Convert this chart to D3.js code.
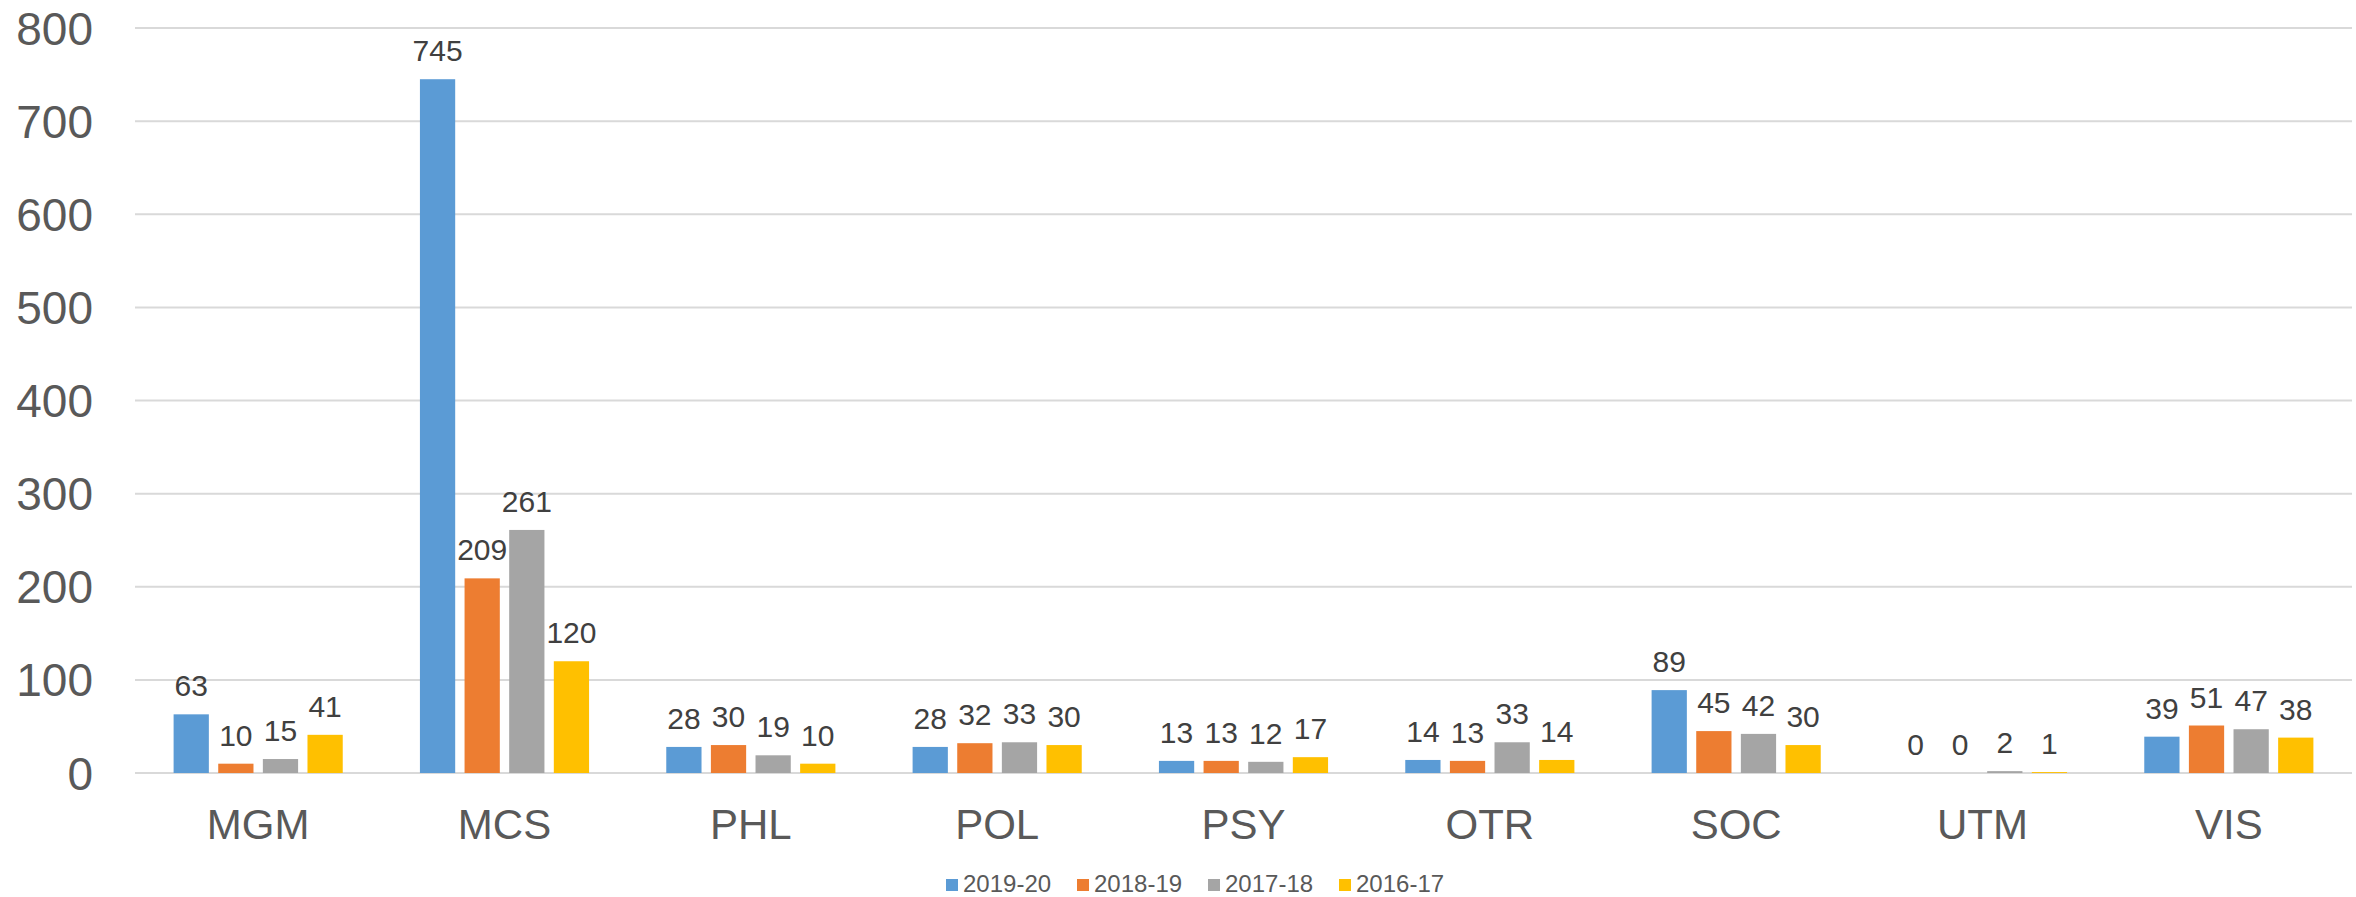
<!DOCTYPE html>
<html><head><meta charset="utf-8">
<script src="https://cdn.jsdelivr.net/npm/d3@7"></script>
<style>body{margin:0;background:#fff}svg{display:block}</style>
</head><body>
<script>
const categories = ["MGM","MCS","PHL","POL","PSY","OTR","SOC","UTM","VIS"];
const seriesNames = ["2019-20","2018-19","2017-18","2016-17"];
const s2019_20 = [63,745,28,28,13,14,89,0,39];
const s2018_19 = [10,209,30,32,13,13,45,0,51];
const s2017_18 = [15,261,19,33,12,33,42,2,47];
const s2016_17 = [41,120,10,30,17,14,30,1,38];
const yTicks = [0,100,200,300,400,500,600,700,800];
const colors = ["#5B9BD5","#ED7D31","#A5A5A5","#FFC000"];

const seriesValues = [s2019_20,s2018_19,s2017_18,s2016_17];
const W = 2356, H = 897;
const mLeft = 135, mRight = 2352, mTop = 28, mBottom = 773;
const font = "'Liberation Sans', Arial, sans-serif";

const svg = d3.select("body").append("svg").attr("width",W).attr("height",H);
const y = d3.scaleLinear().domain([0,800]).range([mBottom,mTop]);
const x0 = d3.scaleBand().domain(categories).range([mLeft,mRight]).padding(0);
const groupPad = 38.6;
const x1 = d3.scaleBand().domain(seriesNames).range([groupPad, x0.bandwidth()-groupPad]).paddingInner(0.21).paddingOuter(0);

// gridlines
svg.append("g").selectAll("line").data(yTicks).join("line")
  .attr("x1",mLeft).attr("x2",mRight)
  .attr("y1",d=>y(d)).attr("y2",d=>y(d))
  .attr("stroke","#D9D9D9").attr("stroke-width",2);

// y tick labels
svg.append("g").selectAll("text").data(yTicks).join("text")
  .attr("x",93).attr("y",d=>y(d)).attr("dy","0.36em")
  .attr("text-anchor","end").attr("font-family",font).attr("font-size",46)
  .attr("fill","#595959").text(d=>d);

// bars
const groups = svg.append("g").selectAll("g").data(categories).join("g")
  .attr("transform",d=>`translate(${x0(d)},0)`);
groups.each(function(cat,ci){
  const g = d3.select(this);
  const data = seriesNames.map((s,si)=>({s,si,v:seriesValues[si][ci]}));
  g.selectAll("rect").data(data).join("rect")
    .attr("x",d=>x1(d.s)).attr("width",x1.bandwidth())
    .attr("y",d=>y(d.v)).attr("height",d=>y(0)-y(d.v))
    .attr("fill",d=>colors[d.si]);
  g.selectAll("text").data(data).join("text")
    .attr("x",d=>x1(d.s)+x1.bandwidth()/2).attr("y",d=>y(d.v)-18)
    .attr("text-anchor","middle").attr("font-family",font).attr("font-size",30)
    .attr("fill","#404040").text(d=>d.v);
});

// category labels
svg.append("g").selectAll("text").data(categories).join("text")
  .attr("x",d=>x0(d)+x0.bandwidth()/2).attr("y",839)
  .attr("text-anchor","middle").attr("font-family",font).attr("font-size",42)
  .attr("fill","#595959").text(d=>d);

// legend
const lg = svg.append("g");
const lx = d3.scalePoint().domain(seriesNames).range([946,1339]);
seriesNames.forEach((s,i)=>{
  lg.append("rect").attr("x",lx(s)).attr("y",879).attr("width",12).attr("height",12).attr("fill",colors[i]);
  lg.append("text").attr("x",lx(s)+17).attr("y",892).attr("font-family",font).attr("font-size",24)
    .attr("fill","#595959").text(s);
});
</script>
</body></html>
